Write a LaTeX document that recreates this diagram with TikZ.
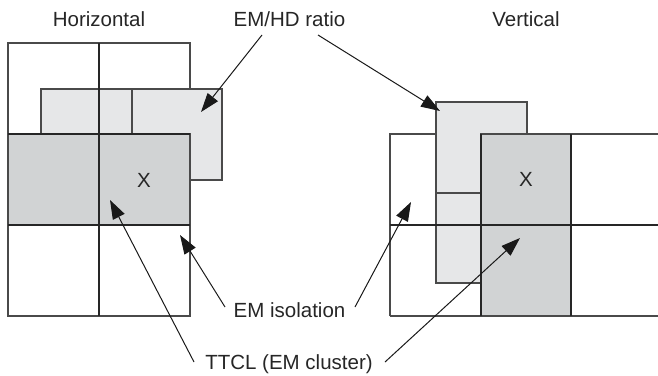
\documentclass[tikz,border=0pt]{standalone}
\usepackage{fontspec}
\setmainfont{Liberation Sans}
\usetikzlibrary{arrows.meta}
\definecolor{darkfill}{HTML}{D1D3D4}
\definecolor{lightfill}{HTML}{E6E7E8}
\definecolor{edgegray}{HTML}{4A4A4A}
\begin{document}
\begin{tikzpicture}[x=1pt,y=-1pt,
  cellbox/.style={draw=edgegray,line width=1.1pt},
  darkbox/.style={cellbox,fill=darkfill},
  lightbox/.style={cellbox,fill=lightfill},
  whitebox/.style={cellbox,fill=white},
  gridline/.style={draw=black!85,line width=1.6pt},
  lbl/.style={inner sep=0pt,anchor=base,font=\fontsize{20.5}{24}\selectfont,text=black!85},
  pointer/.style={draw=black!90,line width=1pt,-{Triangle[length=19pt,width=13pt]}}]
\useasboundingbox (0,0) rectangle (658,375);
% ---------- Horizontal ----------
\path[whitebox] (8,43) rectangle (190,316);
\path[lightbox] (41,89) rectangle (132,134);
\path[lightbox] (132,89) rectangle (222,180);
\path[darkbox] (8,134) rectangle (190,225);
\draw[gridline] (99,43) -- (99,316);
\draw[gridline] (8,134) -- (190,134);
\draw[gridline] (8,225) -- (190,225);
% ---------- Vertical ----------
\path[whitebox] (390,316) -- (390,134) -- (658,134);
\path[draw=edgegray,line width=1.1pt] (390,316) -- (658,316);
\path[lightbox] (436,102) rectangle (527,193);
\path[lightbox] (436,193) rectangle (481,283);
\path[darkbox] (481,134) rectangle (571,316);
\draw[gridline] (390,225) -- (658,225);
\draw[gridline] (481,134) -- (481,316);
\draw[gridline] (571,134) -- (571,316);
% ---------- Labels ----------
\node[lbl] (hlab) at (99,26) {Horizontal};
\node[lbl] (ratio) at (289.5,26) {EM/HD ratio};
\node[lbl] (vlab) at (526,26) {Vertical};
\node[lbl] (iso) at (289.5,317) {EM isolation};
\node[lbl] (ttcl) at (289,369) {TTCL (EM cluster)};
\node[lbl] (xleft) at (144,187) {X};
\node[lbl] (xright) at (526,186) {X};
% ---------- Arrow ends ----------
\coordinate (r1s) at (262,35);  \coordinate (r1t) at (201,112);
\coordinate (r2s) at (318,35);  \coordinate (r2t) at (440,111);
\coordinate (i1s) at (225,307); \coordinate (i1t) at (180,235);
\coordinate (i2s) at (355,307); \coordinate (i2t) at (411,202);
\coordinate (t1s) at (194,362); \coordinate (t1t) at (110,200);
\coordinate (t2s) at (385,362); \coordinate (t2t) at (520,238);
\draw[pointer] (r1s) -- (r1t);
\draw[pointer] (r2s) -- (r2t);
\draw[pointer] (i1s) -- (i1t);
\draw[pointer] (i2s) -- (i2t);
\draw[pointer] (t1s) -- (t1t);
\draw[pointer] (t2s) -- (t2t);
\end{tikzpicture}
\end{document}
